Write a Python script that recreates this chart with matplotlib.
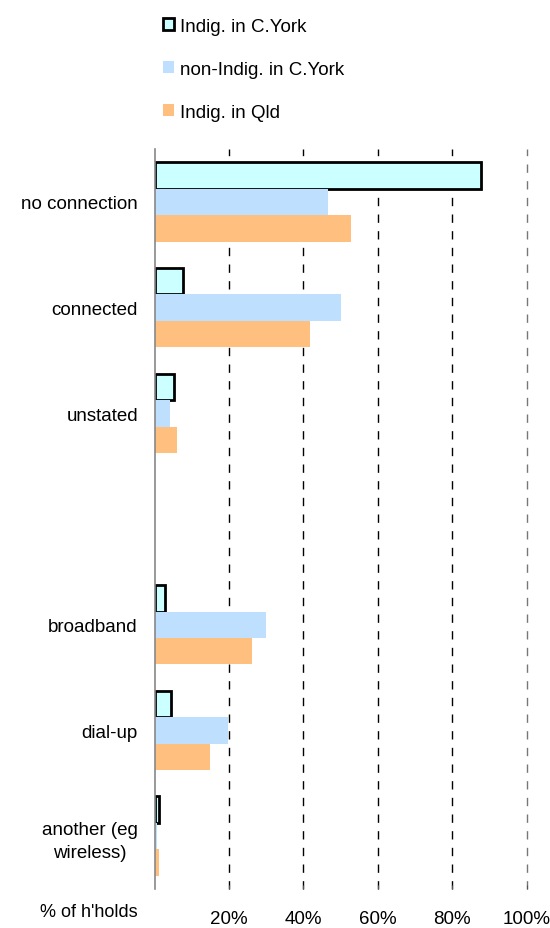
import matplotlib.pyplot as plt
from matplotlib.patches import Patch
import numpy as np

plt.rcParams['font.family'] = ['Liberation Sans', 'DejaVu Sans']

# Values (% of households)
categories = ['no connection', 'connected', 'unstated', '',
              'broadband', 'dial-up', 'another (eg\nwireless)']
indig_cyork = [87.8, 7.7, 5.2, np.nan, 2.8, 4.4, 1.1]
nonindig_cyork = [46.6, 50.1, 4.2, np.nan, 30.0, 19.7, 0.7]
indig_qld = [52.8, 41.8, 6.0, np.nan, 26.2, 14.9, 1.2]
series_names = ['Indig. in C.York', 'non-Indig. in C.York', 'Indig. in Qld']
xticks = [20, 40, 60, 80, 100]

fig = plt.figure(figsize=(5.5, 9.29), dpi=100, facecolor='white')
ax = fig.add_axes([0.281, 0.042, 0.677, 0.7965])

y = np.arange(len(categories))
h = 0.25
ax.barh(y - h, indig_cyork, height=h, color='#CCFFFF', edgecolor='black',
        linewidth=2.0, zorder=3)
ax.barh(y, nonindig_cyork, height=h, color='#BFDFFF', zorder=3)
ax.barh(y + h, indig_qld, height=h, color='#FFBF7F', zorder=3)

ax.set_ylim(len(categories) - 0.5, -0.5)
ax.set_xlim(0, 100)

ax.set_yticks(y)
ax.set_yticklabels(categories, fontsize=13.5, multialignment='center',
                   linespacing=1.45)
ax.tick_params(axis='y', length=0, pad=12)

ax.set_xticks(xticks)
ax.set_xticklabels([f'{v}%' for v in xticks], fontsize=13.5)
ax.tick_params(axis='x', direction='in', length=3, width=0.8, color='#555555', pad=15)

for v in xticks:
    ax.axvline(v, color='black' if v < 100 else '#777777', linestyle=(0, (6, 6)),
               linewidth=1.0, zorder=1, clip_on=False)

for s in ['top', 'right', 'bottom']:
    ax.spines[s].set_visible(False)
ax.spines['left'].set_color('#888888')
ax.spines['left'].set_linewidth(1.2)
ax.spines['left'].set_zorder(4)

fig.text(0.073, 0.018, "% of h'holds", fontsize=13, ha='left', va='center')

handles = [Patch(facecolor='#CCFFFF', edgecolor='black', linewidth=2),
           Patch(facecolor='#BFDFFF'),
           Patch(facecolor='#FFBF7F')]
fig.legend(handles, series_names, loc='upper left', bbox_to_anchor=(0.262, 1.0),
           frameon=False, fontsize=13.5, handlelength=0.62, handleheight=0.62,
           handletextpad=0.3, labelspacing=1.38, borderpad=0.5)

fig.savefig('out.png', dpi=100)
